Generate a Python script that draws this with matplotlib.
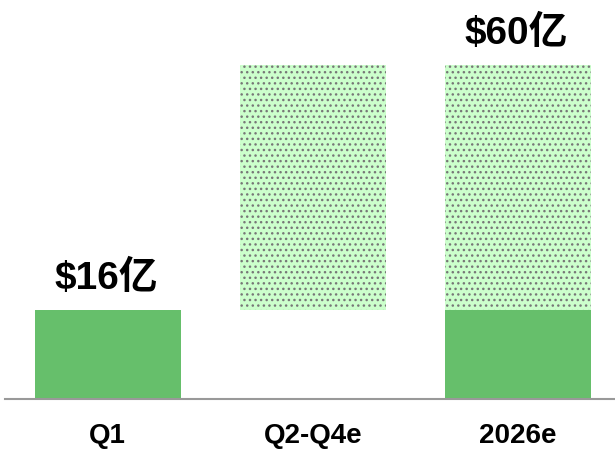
import matplotlib.pyplot as plt
import numpy as np

# data (values in 亿 USD)
categories = ["Q1", "Q2-Q4e", "2026e"]
actual_vals = [16, 0, 16]
estimate_bottom = [0, 16, 16]
estimate_vals = [0, 44, 44]
label_vals = [16, None, 60]
label_texts = ["$16亿", "", "$60亿"]

font_list = ["Liberation Sans", "Noto Sans CJK SC", "DejaVu Sans"]
plt.rcParams["font.family"] = font_list
plt.rcParams["hatch.linewidth"] = 1.0

solid_green = "#66bf6b"
light_green = "#ccffcc"
dot_gray = "#777777"

fig = plt.figure(figsize=(6.15, 4.49), dpi=100)
ax = fig.add_axes([5 / 615, 50 / 449, 610 / 615, 399 / 449])

x = np.arange(len(categories))
width = 0.711

for i in range(len(categories)):
    if actual_vals[i] > 0:
        ax.bar(x[i], actual_vals[i], width=width, color=solid_green, linewidth=0)
    if estimate_vals[i] > 0:
        ax.bar(
            x[i],
            estimate_vals[i],
            bottom=estimate_bottom[i],
            width=width,
            color=light_green,
            edgecolor=dot_gray,
            linewidth=0,
            hatch="...",
        )

for i, v in enumerate(label_vals):
    if v is None:
        continue
    ax.annotate(
        label_texts[i],
        xy=(x[i], v),
        xytext=(-1, 15),
        textcoords="offset points",
        ha="center",
        va="baseline",
        fontsize=28,
        fontweight="bold",
        family=font_list,
    )

ax.set_xlim(-0.5, 2.473)
ax.set_ylim(0, 71.6)

ax.set_xticks(x)
ax.set_xticklabels(categories, fontsize=20, fontweight="bold")
ax.tick_params(axis="x", length=0, pad=17)
ax.set_yticks([])

for side in ["top", "right", "left"]:
    ax.spines[side].set_visible(False)
ax.spines["bottom"].set_color("#999999")
ax.spines["bottom"].set_linewidth(1.5)

plt.savefig("out.png", dpi=100)
